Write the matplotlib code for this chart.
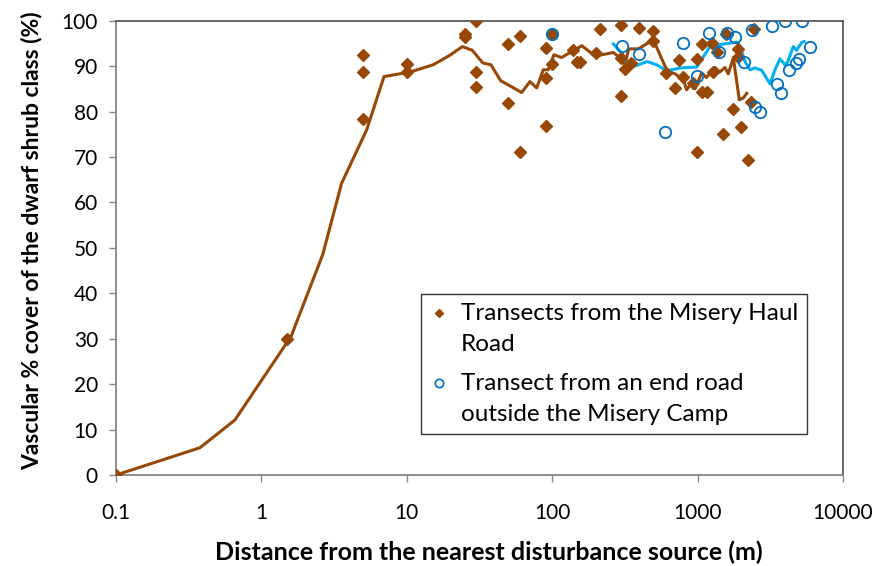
import matplotlib
matplotlib.use("Agg")
import matplotlib.pyplot as plt
from matplotlib.lines import Line2D
from matplotlib.legend_handler import HandlerLine2D

plt.rcParams['font.family'] = ['Lato', 'DejaVu Sans']

# Brown series: transects from the Misery Haul Road (scatter)
haul_x = [0.1, 1.5, 5, 5, 5, 10, 10, 25, 25, 30, 30, 30, 50, 50, 60, 60,
          90, 90, 90, 100, 100, 140, 149, 155, 200, 213, 297, 297, 297, 316,
          348, 397, 496, 496, 606, 700, 748, 798, 935, 985, 985, 1067, 1067,
          1153, 1250, 1283, 1353, 1486, 1560, 1741, 1903, 1903, 1986, 2234,
          2317, 2441]
haul_y = [0, 30, 92.4, 88.8, 78.3, 90.5, 88.8, 97.1, 96.5, 100, 88.8, 85.4,
          94.8, 81.8, 96.6, 71.2, 94.0, 87.4, 76.9, 97.1, 90.5, 93.6, 90.9,
          90.8, 93.0, 98.2, 99.1, 91.8, 83.5, 89.4, 90.7, 98.5, 97.7, 95.5,
          88.5, 85.2, 91.3, 87.7, 86.3, 91.6, 71.2, 94.8, 84.4, 84.4, 95.1,
          88.8, 93.2, 75.1, 97.0, 80.5, 93.7, 92.1, 76.6, 69.4, 82.0, 98.2]

# Brown trend line (moving average)
haul_line_x = [0.1, 0.378, 0.657, 1.6, 2.64, 3.56, 5.3, 6.97, 10.5, 15.2,
               19.8, 24.1, 28.2, 33.3, 37.9, 44.2, 61.7, 70.3, 78.2, 86.9,
               94, 102.8, 116, 136, 160, 197, 263, 300, 316, 336, 391, 496,
               618, 700, 798, 841, 911, 960, 1067, 1150, 1317, 1420, 1542,
               1625, 1761, 1860, 1935, 2062, 2176]
haul_line_y = [0, 6.0, 12.1, 30.5, 48.5, 64.2, 76, 87.7, 88.7, 90.3,
               92.4, 94.3, 93.5, 90.7, 90.3, 86.8, 84.2, 86.6, 85.2, 89.2,
               89.2, 92.5, 91.9, 93.2, 94.5, 92.2, 93.0, 91.6, 90.3, 93.8,
               93.8, 95.8, 88.9, 88.3, 87.0, 84.8, 86.3, 85.0, 88.5, 87.5,
               89.7, 88.7, 89.7, 88.3, 91.8, 86.5, 82.6, 83.0, 84.0]

# Blue series: transect from an end road outside the Misery Camp (scatter)
camp_x = [100, 300, 397, 597, 798, 996, 1191, 1395, 1585, 1799, 2085,
          2366, 2494, 2688, 3265, 3500, 3727, 3970, 4230, 4750, 4980,
          5200, 5930]
camp_y = [97.1, 94.4, 92.6, 75.4, 95.2, 87.9, 97.2, 93.2, 97.2, 96.4, 90.9,
          98.0, 81.0, 80.0, 98.9, 86.0, 84.0, 100, 89.1, 90.6, 91.6,
          100, 94.3]

# Blue trend line (moving average)
camp_line_x = [263, 300, 325, 361, 450, 523, 597, 646, 756, 985, 1216,
               1387, 1857, 1958, 2120, 2293, 2481, 2758, 3148, 3406, 3687,
               3990, 4150, 4550, 4800, 5200, 5400]
camp_line_y = [94.9, 92.9, 90.5, 89.9, 91.0, 90.3, 89.2, 89.1, 89.6, 89.8,
               94.3, 94.7, 95.3, 94.3, 91.0, 89.2, 89.6, 89.1, 86.1, 89.2,
               91.6, 90.3, 90.8, 94.3, 93.5, 95.2, 95.4]

x_ticks = [0.1, 1, 10, 100, 1000, 10000]
x_tick_labels = ['0.1', '1', '10', '100', '1000', '10000']
y_ticks = list(range(0, 101, 10))

brown = '#974806'
line_blue = '#00B0F0'
circle_blue = '#0070C0'


class FirstLineHandler(HandlerLine2D):
    """Place the legend marker level with the first line of a two-line label."""
    def __init__(self, shift, **kw):
        super().__init__(**kw)
        self.shift = shift

    def create_artists(self, legend, orig_handle, xdescent, ydescent,
                       width, height, fontsize, trans):
        artists = super().create_artists(legend, orig_handle, xdescent,
                                         ydescent, width, height, fontsize,
                                         trans)
        for a in artists:
            a.set_ydata([v + self.shift for v in a.get_ydata()])
        return artists


fig = plt.figure(figsize=(8.88, 5.66), dpi=100)
ax = fig.add_axes([116 / 888, 1 - 475 / 566, (843 - 116) / 888, (475 - 20.7) / 566])

ax.plot(haul_line_x, haul_line_y, color=brown, lw=2.2, zorder=2)
ax.plot(camp_line_x, camp_line_y, color=line_blue, lw=2.2, zorder=3)
ax.plot(haul_x, haul_y, linestyle='none', marker='D', ms=6.2, color=brown,
        mec=brown, zorder=4)
ax.plot(camp_x, camp_y, linestyle='none', marker='o', ms=8.2, mfc='none',
        mec=circle_blue, mew=1.3, zorder=5)

ax.set_xscale('log')
ax.set_xlim(0.1, 10000)
ax.set_ylim(0, 100)
ax.set_xticks(x_ticks)
ax.set_xticklabels(x_tick_labels)
ax.minorticks_off()
ax.set_yticks(y_ticks)
ax.tick_params(axis='both', which='major', labelsize=15, direction='out',
               length=5, width=1, color='#868686')
ax.tick_params(axis='x', pad=15)
ax.tick_params(axis='y', pad=8)

for side in ['left', 'bottom']:
    ax.spines[side].set_color('#868686')
    ax.spines[side].set_linewidth(1.3)
for side in ['top', 'right']:
    ax.spines[side].set_color('#595959')
    ax.spines[side].set_linewidth(1.3)

ax.set_xlabel('Distance from the nearest disturbance source (m)',
              fontsize=18, fontweight='bold', labelpad=13)
ax.xaxis.label.set_x(0.513)
ax.set_ylabel('Vascular % cover of the dwarf shrub class (%)',
              fontsize=16.5, fontweight='bold', labelpad=14)
ax.yaxis.label.set_y(0.515)

h_haul = Line2D([], [], linestyle='none', marker='D', ms=4, color=brown)
h_camp = Line2D([], [], linestyle='none', marker='o', ms=6, mfc='none',
                mec=circle_blue, mew=1.2)
labels = ['Transects from the Misery Haul\nRoad',
          'Transect from an end road\noutside the Misery Camp']
leg = ax.legend([h_haul, h_camp], labels, loc='upper left',
                bbox_to_anchor=(0.4195, 0.398), fontsize=17.5, frameon=True,
                fancybox=False, edgecolor='black', handlelength=0.8,
                handletextpad=0.5, borderpad=0.35, labelspacing=0.75,
                borderaxespad=0,
                handler_map={h_haul: FirstLineHandler(11.5),
                             h_camp: FirstLineHandler(11.5)})
for t in leg.get_texts():
    t.set_linespacing(1.6)
leg.get_frame().set_linewidth(1.0)

fig.savefig('out.png', dpi=100)
